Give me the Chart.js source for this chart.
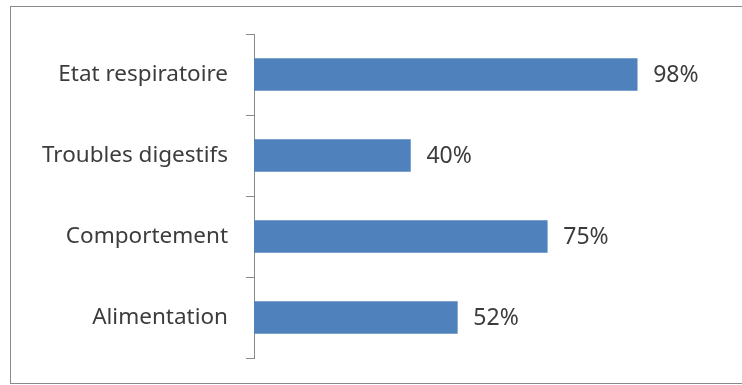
<!DOCTYPE html>
<html>
<head>
<meta charset="utf-8">
<script src="https://cdn.jsdelivr.net/npm/chart.js@4"></script>
<style>
  html, body { margin: 0; padding: 0; background: #fff; }
  #wrap { position: relative; width: 742px; height: 385px; overflow: hidden; }
  #frame {
    position: absolute; left: 10px; top: 6px; width: 740px; height: 378px;
    border: 1px solid #8a8a8a; box-sizing: border-box;
  }
  #chart { position: absolute; left: 0; top: 0; }
</style>
</head>
<body>
<div id="wrap">
  <div id="frame"></div>
  <canvas id="chart" width="742" height="385"></canvas>
</div>
<script>
// categories, top to bottom
const categories = ['Etat respiratoire', 'Troubles digestifs', 'Comportement', 'Alimentation'];
// share of cases, in percent
const percentages = [98, 40, 75, 52];

const FONT = '"Noto Sans", "Open Sans", sans-serif';

// write "NN%" just right of each bar
const valueLabels = {
  id: 'valueLabels',
  afterDatasetsDraw(chart) {
    const { ctx } = chart;
    const meta = chart.getDatasetMeta(0);
    ctx.save();
    ctx.font = `23px ${FONT}`;
    ctx.fillStyle = '#3c3c3c';
    ctx.textAlign = 'left';
    ctx.textBaseline = 'middle';
    meta.data.forEach((bar, i) => {
      ctx.fillText(percentages[i] + '%', bar.x + 16, bar.y + 1);
    });
    ctx.restore();
  }
};

new Chart(document.getElementById('chart'), {
  type: 'bar',
  data: {
    labels: categories,
    datasets: [{
      data: percentages,
      backgroundColor: '#4f81bd',
      borderWidth: 0,
      barThickness: 32
    }]
  },
  plugins: [valueLabels],
  options: {
    indexAxis: 'y',
    responsive: false,
    animation: false,
    layout: { padding: { top: 34, bottom: 27, right: 97, left: 0 } },
    plugins: { legend: { display: false }, tooltip: { enabled: false } },
    scales: {
      x: { display: false, min: 0, max: 100 },
      y: {
        // fixed axis width, and no extra room for half-labels at the ends
        afterFit: s => { s.width = 254; s.paddingTop = 0; s.paddingBottom = 0; },
        grid: { drawOnChartArea: false, tickLength: 8, color: '#8a8a8a', offset: true },
        border: { color: '#8a8a8a' },
        ticks: { color: '#3c3c3c', padding: 18, font: { family: FONT, size: 22.5 } }
      }
    }
  }
});
</script>
</body>
</html>
